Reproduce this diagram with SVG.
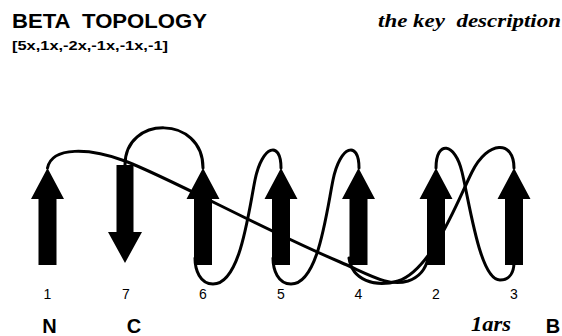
<svg xmlns="http://www.w3.org/2000/svg" xmlns:xlink="http://www.w3.org/1999/xlink" width="562" height="336" viewBox="0 0 562 336">
<style>
.title{font-family:"Liberation Sans",Arial,sans-serif;font-weight:bold;fill:#000}
.num{font-family:"Liberation Sans",Arial,sans-serif;font-size:14px;fill:#000;text-anchor:middle}
.term{font-family:"Liberation Sans",Arial,sans-serif;font-weight:bold;font-size:20px;fill:#000;text-anchor:middle}
.serif{font-family:"Liberation Serif","Times New Roman",serif;font-weight:bold;font-style:italic;fill:#000}
.conn{fill:none;stroke:#000;stroke-width:3;stroke-linecap:round}
.strand{fill:#000}
</style>
<defs>
<polygon id="up" points="0,168 16.5,199 9,199 9,265 -9,265 -9,199 -16.5,199"/>
<polygon id="down" points="-8.5,165 8.5,165 8.5,232 17,232 0,263 -17,232 -8.5,232"/>
</defs>
<rect width="562" height="336" fill="#fff"/>
<text class="title" x="12" y="28" font-size="21" textLength="195" lengthAdjust="spacingAndGlyphs" xml:space="preserve">BETA  TOPOLOGY</text>
<text class="title" x="12" y="50" font-size="13" textLength="156" lengthAdjust="spacingAndGlyphs">[5x,1x,-2x,-1x,-1x,-1]</text>
<text class="serif" x="378" y="27" font-size="19" textLength="183" lengthAdjust="spacingAndGlyphs" xml:space="preserve">the key  description</text>
<g id="connectors">
<path class="conn" d="M47.5,168 C52,146 90,148 125,161 C170,178 260,228 340,262 C370,275 388,287 408,281 C420,277 426,268 428,258"/>
<path class="conn" d="M203,168 C203,115 125,115 125,165"/>
<path class="conn" d="M281,168 C281,140 262,145 255,180 C248,215 240,284 213,284 C200,284 195,270 195,258"/>
<path class="conn" d="M359,168 C359,140 340,145 333,180 C326,215 318,284 291,284 C278,284 273,270 273,258"/>
<path class="conn" d="M514,168 C514,140 488,140 472,172 C458,200 432,270 398,281 C375,288 352,280 349,258"/>
<path class="conn" d="M436,168 C436,140 455,142 462,172 C470,205 480,280 500,280 C510,280 514,272 514,262"/>
</g>
<g id="strand1"><use xlink:href="#up" x="47.5" class="strand"/><text class="num" x="47.5" y="299">1</text></g>
<g id="strand7"><use xlink:href="#down" x="125" class="strand"/><text class="num" x="126" y="299">7</text></g>
<g id="strand6"><use xlink:href="#up" x="203" class="strand"/><text class="num" x="203" y="299">6</text></g>
<g id="strand5"><use xlink:href="#up" x="281" class="strand"/><text class="num" x="281" y="299">5</text></g>
<g id="strand4"><use xlink:href="#up" x="358.5" class="strand"/><text class="num" x="358.5" y="299">4</text></g>
<g id="strand2"><use xlink:href="#up" x="436" class="strand"/><text class="num" x="436" y="299">2</text></g>
<g id="strand3"><use xlink:href="#up" x="514" class="strand"/><text class="num" x="514" y="299">3</text></g>
<g id="termN"><text class="term" x="49.5" y="333">N</text></g>
<g id="termC"><text class="term" x="134" y="333">C</text></g>
<text class="serif" x="471" y="331" font-size="20" textLength="40" lengthAdjust="spacingAndGlyphs">1ars</text>
<text class="term" x="553" y="333">B</text>
</svg>
